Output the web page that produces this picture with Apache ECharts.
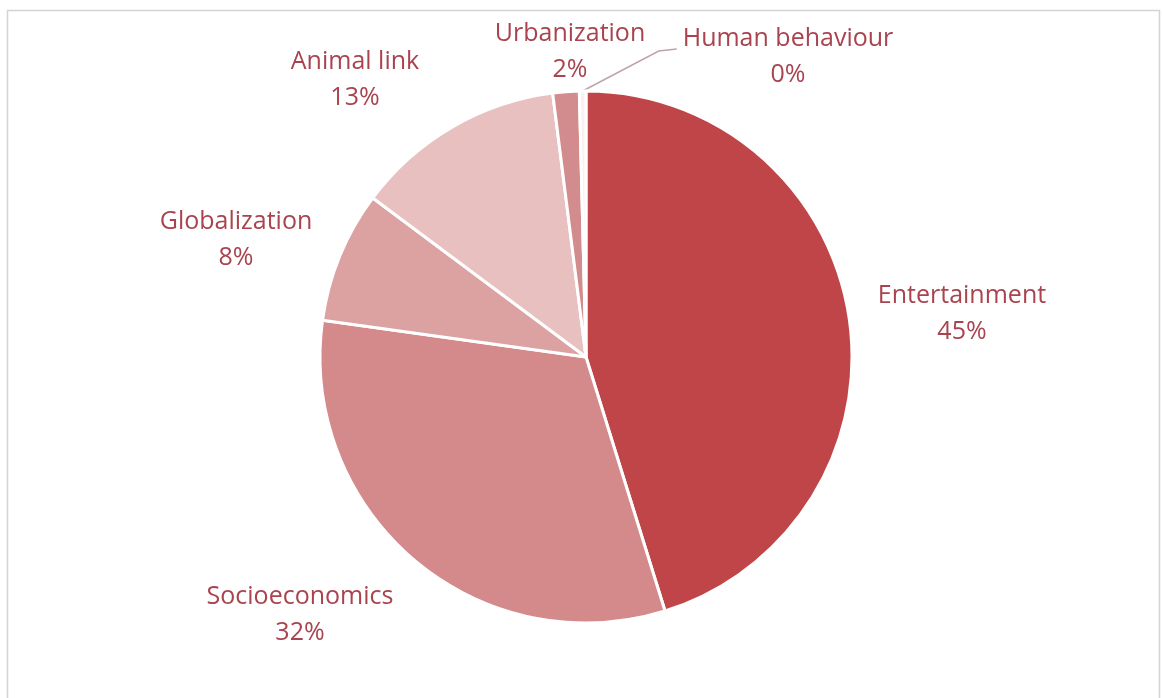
<!DOCTYPE html>
<html>
<head>
<meta charset="utf-8">
<script src="https://cdn.jsdelivr.net/npm/echarts@6/dist/echarts.min.js"></script>
<style>
  html, body { margin: 0; padding: 0; background: #ffffff; }
  #chart { width: 1162px; height: 698px; }
</style>
</head>
<body>
<div id="chart"></div>
<script>
// Share of drivers, clockwise from 12 o'clock
const categories = ['Entertainment', 'Socioeconomics', 'Globalization', 'Animal link', 'Urbanization', 'Human behaviour'];
const counts = [113, 80, 20, 32, 4, 1];

// Slice fills
const sliceColors = ['#BF4548', '#D48A8B', '#DCA2A2', '#E8C0C0', '#D28C8E', '#FAF0F0'];

// Centre points of each two-line label
const labelCenters = [
  [962, 314],
  [300, 615],
  [236, 240],
  [355, 80],
  [570, 52],
  [788, 57]
];

const chart = echarts.init(document.getElementById('chart'), null, { renderer: 'canvas' });

const textColor = '#A9434E';

chart.setOption({
  backgroundColor: '#ffffff',
  animation: false,
  graphic: [{
    type: 'rect',
    shape: { x: 7.5, y: 10.5, width: 1152, height: 700 },
    style: { fill: 'none', stroke: '#d4d4d4', lineWidth: 1.5 },
    silent: true
  }],
  series: [{
    type: 'pie',
    center: [586, 357],
    radius: 266,
    startAngle: 90,
    clockwise: true,
    percentPrecision: 0,
    avoidLabelOverlap: false,
    itemStyle: { borderColor: '#ffffff', borderWidth: 3 },
    label: {
      show: true,
      position: 'outside',
      formatter: '{b}\n{d}%',
      color: textColor,
      fontFamily: 'Open Sans',
      fontSize: 25,
      lineHeight: 36,
      align: 'center'
    },
    labelLine: { show: false },
    labelLayout: function (params) {
      const c = labelCenters[params.dataIndex];
      const w = params.labelRect.width;
      const h = params.labelRect.height;
      const out = { x: c[0], y: c[1], align: 'center', verticalAlign: 'middle' };
      if (params.dataIndex === 5 && params.labelLinePoints) {
        // leader line from the thin slice up to the left of its label
        const start = params.labelLinePoints[0];
        const endX = c[0] - w / 2 - 6;
        const endY = c[1] - h / 2 + 28;
        out.labelLinePoints = [start, [endX - 18, endY + 2], [endX, endY]];
      }
      return out;
    },
    data: categories.map(function (name, i) {
      const item = {
        name: name,
        value: counts[i],
        itemStyle: { color: sliceColors[i] }
      };
      if (i === 5) {
        item.labelLine = { show: true, length: 20, length2: 18, lineStyle: { color: '#bfa3a8', width: 1.5 } };
      }
      return item;
    })
  }]
});
</script>
</body>
</html>
